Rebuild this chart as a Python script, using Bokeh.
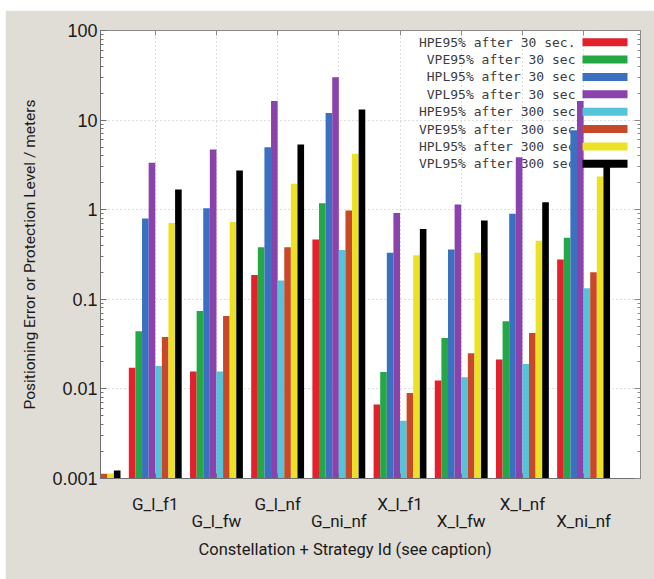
from bokeh.plotting import figure
from bokeh.models import (Range1d, FixedTicker, LogAxis, LinearAxis, Title,
                          Spacer, CustomJSTickFormatter, ColumnDataSource)
from bokeh.layouts import column, row
from bokeh.core.properties import value
from bokeh.embed import file_html
from bokeh.resources import INLINE

# ---------------- data ----------------
categories = ["G_l_f1", "G_l_fw", "G_l_nf", "G_ni_nf",
              "X_l_f1", "X_l_fw", "X_l_nf", "X_ni_nf"]
series_names = ["HPE95% after 30 sec.", "VPE95% after 30 sec",
                "HPL95% after 30 sec", "VPL95% after 30 sec",
                "HPE95% after 300 sec", "VPE95% after 300 sec",
                "HPL95% after 300 sec", "VPL95% after 300 sec"]
hpe30 = [0.0172, 0.0156, 0.187, 0.465, 0.0067, 0.0124, 0.0213, 0.278]
vpe30 = [0.044, 0.074, 0.38, 1.18, 0.0154, 0.037, 0.057, 0.485]
hpl30 = [0.80, 1.04, 4.99, 12.0, 0.33, 0.36, 0.90, 7.7]
vpl30 = [3.34, 4.7, 16.3, 30.1, 0.92, 1.14, 3.85, 16.3]
hpe300 = [0.018, 0.0156, 0.162, 0.356, 0.0044, 0.0135, 0.019, 0.133]
vpe300 = [0.038, 0.065, 0.38, 0.98, 0.009, 0.025, 0.042, 0.20]
hpl300 = [0.71, 0.73, 1.95, 4.2, 0.31, 0.33, 0.45, 2.35]
vpl300 = [1.68, 2.74, 5.35, 13.1, 0.61, 0.76, 1.21, 3.0]
# partially visible group at the left edge (only the last four series show)
stub_values = [None, None, None, None, 0.00112, 0.00113, 0.00114, 0.00123]
y_ticks = [0.001, 0.01, 0.1, 1, 10, 100]
x_title = "Constellation + Strategy Id (see caption)"
y_title = "Positioning Error or Protection Level / meters"

series = [hpe30, vpe30, hpl30, vpl30, hpe300, vpe300, hpl300, vpl300]
colors = ["#e3202b", "#24a845", "#3b6fc0", "#8a42ad",
          "#55c3d8", "#c9482a", "#ece125", "#000000"]

# ---------------- layout helpers ----------------
X0, X1 = -0.895, 7.93
FL, FR, FT, FB = 100, 640, 30, 478      # frame edges in window px
def xd(px):
    return X0 + (px - FL) / (FR - FL) * (X1 - X0)
def yd(py):
    return 10 ** (2 - (py - FT) / (FB - FT) * 5)

BAR_W = 0.108
TXT = "#1a1a1a"

p = figure(width=649, height=569, output_backend="svg", toolbar_location=None,
           x_range=Range1d(X0, X1), y_range=Range1d(0.001, 100),
           y_axis_type="log",
           min_border_left=95, min_border_right=14, min_border_top=20,
           min_border_bottom=101)
p.background_fill_color = "white"
p.border_fill_color = "#e0ddd6"
p.outline_line_color = "#8a8a8a"

# grids
p.xgrid.ticker = FixedTicker(ticks=list(range(len(categories))))
p.ygrid.ticker = FixedTicker(ticks=y_ticks)
for g in (p.xgrid, p.ygrid):
    g.grid_line_color = "#bdbdbd"
    g.grid_line_dash = "1 3"
    g.grid_line_width = 1

minor = [m * 10 ** e for e in range(-3, 2) for m in range(2, 10)]

# left axis
ya = p.yaxis[0]
ya.ticker = FixedTicker(ticks=y_ticks, minor_ticks=minor)
ya.formatter = CustomJSTickFormatter(code="return String(tick);")
ya.major_label_text_font = "Liberation Sans"
ya.major_label_text_font_size = "18px"
ya.major_label_text_color = TXT
ya.major_label_standoff = 3
ya.major_tick_in = 6
ya.major_tick_out = 0
ya.minor_tick_in = 3
ya.minor_tick_out = 0
ya.axis_line_color = "#6f6f6f"
ya.major_tick_line_color = "#6f6f6f"
ya.minor_tick_line_color = "#6f6f6f"
ya.axis_label = y_title
ya.axis_label_text_font = "Roboto"
ya.axis_label_text_font_size = "15.5px"
ya.axis_label_text_font_style = "normal"
ya.axis_label_text_color = TXT
ya.axis_label_standoff = 10

# bottom axis: category labels, every second one pushed down a line
xa = p.xaxis[0]
xa.ticker = FixedTicker(ticks=list(range(len(categories))))
xa.major_label_overrides = {i: (c if i % 2 == 0 else "\n" + c)
                            for i, c in enumerate(categories)}
xa.major_label_text_font = "Roboto"
xa.major_label_text_font_size = "17px"
xa.major_label_text_line_height = 0.85
xa.major_label_text_color = TXT
xa.major_label_standoff = 15
xa.major_tick_in = 5
xa.major_tick_out = 0
xa.minor_tick_line_color = None
xa.axis_line_color = "#6f6f6f"
xa.major_tick_line_color = "#6f6f6f"

# mirrored axes
ra = LogAxis(ticker=FixedTicker(ticks=y_ticks, minor_ticks=minor),
             formatter=CustomJSTickFormatter(code="return '';"),
             major_tick_in=6, major_tick_out=0, minor_tick_in=3, minor_tick_out=0,
             axis_line_color="#8a8a8a", major_tick_line_color="#8a8a8a",
             minor_tick_line_color="#8a8a8a", major_label_text_font_size="1px",
             major_label_standoff=0)
p.add_layout(ra, "right")
ta = LinearAxis(ticker=FixedTicker(ticks=list(range(len(categories)))),
                formatter=CustomJSTickFormatter(code="return '';"),
                major_tick_in=5, major_tick_out=0, minor_tick_line_color=None,
                axis_line_color="#8a8a8a", major_tick_line_color="#8a8a8a",
                major_label_text_font_size="1px", major_label_standoff=0)
p.add_layout(ta, "above")

# x title
p.add_layout(Title(text=x_title, align="left", offset=98,
                   text_font="Roboto", text_font_size="16.5px",
                   text_font_style="normal", text_color=TXT,
                   standoff=8), "below")

# legend text (drawn beneath the bars)
row_y0, row_dy = 41.7, 17.37
text_right = 575
for j, name in enumerate(series_names):
    p.text(x=[xd(text_right)], y=[yd(row_y0 + j * row_dy)], text=[name],
           text_align="right", text_baseline="middle",
           text_font=value("DejaVu Sans Mono"), text_font_size="13px",
           text_color="#3c3c3c")

# bars
n = len(series)
for j, (vals, col) in enumerate(zip(series, colors)):
    xs = [i + (j - (n - 1) / 2) * BAR_W for i in range(len(categories))]
    if stub_values[j] is not None:
        xs = [-1 + (j - (n - 1) / 2) * BAR_W] + xs
        vals = [stub_values[j]] + list(vals)
    src = ColumnDataSource(dict(x=xs, top=vals, bottom=[1e-4] * len(vals)))
    p.vbar(x="x", top="top", bottom="bottom", width=BAR_W, source=src,
           fill_color=col, line_color=None)

# legend swatches
sw_l, sw_r = 582, 627
for j, col in enumerate(colors):
    p.rect(x=[(xd(sw_l) + xd(sw_r)) / 2], y=[yd(row_y0 + j * row_dy)],
           width=xd(sw_r) - xd(sw_l), height=8, height_units="screen",
           fill_color=col, line_color=None)

layout = column(Spacer(width=654, height=10),
                row(Spacer(width=5, height=569), p))
open("out.html", "w").write(file_html(layout, INLINE))
